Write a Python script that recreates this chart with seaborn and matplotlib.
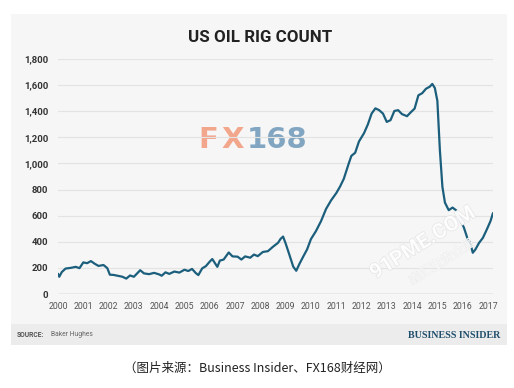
import matplotlib
matplotlib.use("Agg")
import matplotlib.pyplot as plt
from matplotlib.patches import Rectangle
import matplotlib.patheffects as pe
import seaborn as sns
import pandas as pd

# ---- data ----
years = [2000.0, 2000.05, 2000.15, 2000.3, 2000.5, 2000.7, 2000.85, 2001.0, 2001.15, 2001.3,
         2001.45, 2001.6, 2001.8, 2001.95, 2002.05, 2002.2, 2002.4, 2002.55, 2002.7, 2002.85,
         2003.0, 2003.15, 2003.25, 2003.4, 2003.6, 2003.8, 2004.0, 2004.1, 2004.25, 2004.4,
         2004.6, 2004.8, 2005.0, 2005.15, 2005.3, 2005.45, 2005.55, 2005.7, 2005.85, 2006.0,
         2006.1, 2006.2, 2006.3, 2006.4, 2006.55, 2006.75, 2006.9, 2007.1, 2007.25, 2007.4,
         2007.6, 2007.75, 2007.9, 2008.1, 2008.3, 2008.5, 2008.7, 2008.8, 2008.9, 2009.0,
         2009.15, 2009.3, 2009.42, 2009.55, 2009.7, 2009.85, 2010.0, 2010.2, 2010.4, 2010.6,
         2010.8, 2011.0, 2011.15, 2011.3, 2011.5, 2011.6, 2011.75, 2011.9, 2012.1, 2012.25,
         2012.4, 2012.55, 2012.7, 2012.85, 2013.0, 2013.15, 2013.3, 2013.45, 2013.6, 2013.8,
         2013.95, 2014.1, 2014.25, 2014.4, 2014.55, 2014.7, 2014.8, 2014.9, 2015.0, 2015.1,
         2015.2, 2015.3, 2015.45, 2015.6, 2015.75, 2015.9, 2016.05, 2016.2, 2016.3, 2016.4,
         2016.5, 2016.65, 2016.8, 2016.95, 2017.1, 2017.2]
rigs = [155, 132, 168, 195, 200, 208, 198, 242, 236, 252,
        232, 215, 222, 198, 148, 146, 138, 132, 118, 142,
        132, 162, 182, 158, 152, 162, 150, 140, 166, 154,
        172, 164, 186, 176, 192, 160, 145, 196, 214, 248,
        268, 238, 208, 256, 264, 318, 288, 286, 264, 288,
        278, 302, 290, 322, 328, 362, 392, 422, 440, 388,
        300, 210, 178, 232, 288, 342, 420, 482, 558, 652,
        718, 772, 822, 882, 1002, 1058, 1082, 1168, 1232, 1298,
        1382, 1422, 1408, 1382, 1318, 1332, 1402, 1408, 1378, 1362,
        1392, 1420, 1522, 1538, 1572, 1588, 1609, 1578, 1480, 1100,
        820, 700, 642, 662, 640, 572, 508, 420, 392, 316,
        340, 392, 430, 492, 558, 620]
x_ticks = list(range(2000, 2018))
y_ticks = [0, 200, 400, 600, 800, 1000, 1200, 1400, 1600, 1800]
y_labels = ["0", "200", "400", "600", "800", "1,000", "1,200", "1,400", "1,600", "1,800"]

df = pd.DataFrame({"year": years, "rigs": rigs})

sns.set_style("white")
plt.rcParams["font.family"] = ["Roboto", "DejaVu Sans"]

W, H = 514, 388
fig = plt.figure(figsize=(W / 100, H / 100), dpi=100)
fig.patch.set_facecolor("white")

# card background and footer band (behind the axes)
fig.patches.append(Rectangle((11 / W, 1 - 345 / H), 496 / W, 331 / H,
                             transform=fig.transFigure, facecolor="#f6f6f6",
                             edgecolor="none", zorder=-2))
fig.patches.append(Rectangle((11 / W, 1 - 345 / H), 496 / W, 21 / H,
                             transform=fig.transFigure, facecolor="#ececec",
                             edgecolor="none", zorder=-1))

# FX168 watermark (behind the line)
fig.text(198 / W, 1 - 140 / H, "F", ha="left", va="center", fontsize=21,
         fontweight="bold", color="#f2a68b", family=["DejaVu Sans"], zorder=-0.5)
fig.text(221 / W, 1 - 140 / H, "X", ha="left", va="center", fontsize=21,
         fontweight="bold", color="#f2a68b", family=["DejaVu Sans"], zorder=-0.5)
fig.text(247 / W, 1 - 140 / H, "168", ha="left", va="center", fontsize=21,
         fontweight="bold", color="#82a6c1", family=["DejaVu Sans"], zorder=-0.5)

ax = fig.add_axes([58 / W, 1 - 294 / H, 435 / W, 235 / H])
ax.set_facecolor("none")
sns.lineplot(data=df, x="year", y="rigs", ax=ax, color="#1c5f7d", linewidth=1.6)

ax.set_xlim(2000, 2017.2)
ax.set_ylim(0, 1800)
ax.set_yticks(y_ticks)
ax.set_yticklabels(y_labels, fontsize=6.8, fontweight="bold", color="#333333")
ax.set_xticks(x_ticks)
ax.set_xticklabels([str(t) for t in x_ticks], fontsize=6.3, color="#555555")
ax.tick_params(axis="both", length=0)
ax.tick_params(axis="y", pad=7)
ax.tick_params(axis="x", pad=6)
for v in y_ticks[1:]:
    ax.axhline(v, color="#e3e3e3", linewidth=0.8, zorder=0)
ax.axhline(0, color="#b5b5b5", linewidth=1.0, zorder=0)
for s in ax.spines.values():
    s.set_visible(False)
ax.set_xlabel("")
ax.set_ylabel("")

# title
fig.text(260 / W, 1 - 37 / H, "US OIL RIG COUNT", ha="center", va="center",
         fontsize=12.2, fontweight="bold", color="#222222")

# 91PME watermark (faint)
wm = [pe.withStroke(linewidth=1.0, foreground="#e2e2e2")]
fig.text(423 / W, 1 - 243 / H, "91PME.COM", ha="center", va="center", fontsize=15,
         fontweight="bold", color="white", alpha=0.8, rotation=32, path_effects=wm)
fig.text(442 / W, 1 - 262 / H, "鑫汇宝贵金属", ha="center", va="center", fontsize=9,
         color="white", alpha=0.7, rotation=32,
         path_effects=[pe.withStroke(linewidth=0.6, foreground="#e6e6e6")],
         family=["Noto Sans CJK SC", "DejaVu Sans"])

# footer
fig.text(17 / W, 1 - 335 / H, "SOURCE:", ha="left", va="center", fontsize=4.9,
         fontweight="bold", color="#555555")
fig.text(51 / W, 1 - 335 / H, "Baker Hughes", ha="left", va="center", fontsize=4.9,
         color="#666666")
fig.text(500 / W, 1 - 335 / H, "BUSINESS INSIDER", ha="right", va="center",
         fontsize=7.2, fontweight="bold", color="#1f4d6c",
         family=["Liberation Serif", "DejaVu Serif"])

# caption
fig.text(257 / W, 1 - 368 / H, "（图片来源：Business Insider、FX168财经网）",
         ha="center", va="center", fontsize=9.0, color="#222222",
         family=["Noto Sans CJK SC", "DejaVu Sans"])

fig.savefig("out.png", dpi=100, facecolor="white")
